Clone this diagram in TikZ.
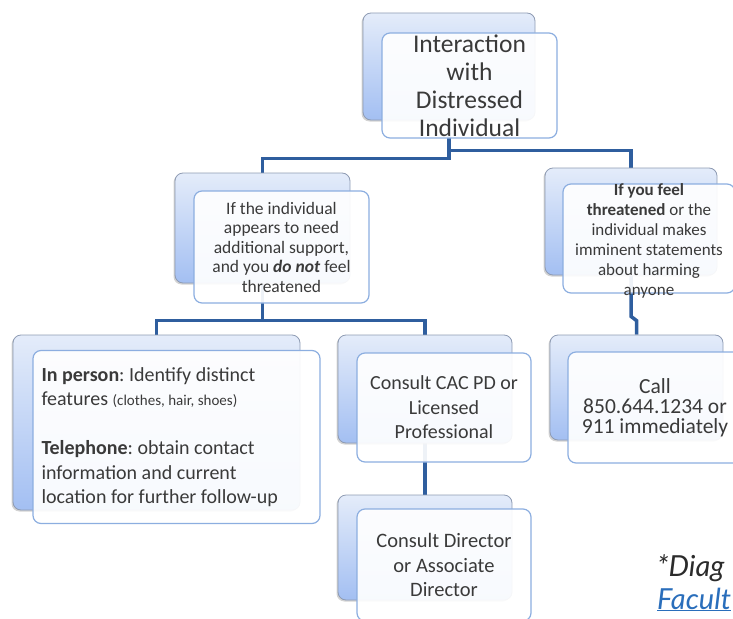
\documentclass[tikz,border=0pt]{standalone}
\usepackage{fontspec}
\setmainfont{Carlito}
\newfontfamily\notefont{Lato}
\usetikzlibrary{shadows, backgrounds, calc}
\frenchspacing

\definecolor{linkblue}{HTML}{2F5E9E}
\definecolor{backtop}{HTML}{E4ECFA}
\definecolor{backbot}{HTML}{A3BFF2}
\definecolor{backedge}{HTML}{8E9BB3}
\definecolor{frontedge}{HTML}{8CAEE0}
\definecolor{boxtext}{HTML}{3A3A3A}
\definecolor{notetext}{HTML}{2B2B2B}
\definecolor{noteblue}{HTML}{2A6EBB}

\tikzset{
  backbox/.style={rectangle, rounded corners=8pt, draw=backedge, line width=0.8pt,
    top color=backtop, bottom color=backbot, inner sep=0pt,
    drop shadow={shadow xshift=-1.5pt, shadow yshift=-1.5pt, opacity=0.35}},
  frontbox/.style={rectangle, rounded corners=8pt, draw=frontedge, line width=1.2pt,
    fill=white, fill opacity=0.92, text opacity=1, text=boxtext, inner sep=0pt, align=center},
  link/.style={draw=linkblue, line width=3.5pt}
}

\begin{document}
\begin{tikzpicture}[x=1pt, y=-1pt]
            \useasboundingbox (0,0) rectangle (733,618);
            \clip (0,0) rectangle (733,618);

            % top of the tree
            \node[backbox, minimum width=172pt, minimum height=107pt] (rootback) at (449,66.5) {};
            \node[frontbox, minimum width=175pt, minimum height=105pt, font=\fontsize{25.5}{28}\selectfont] (root) at (469.5,85.5) {Interaction\\with\\Distressed\\Individual};

            % second row
            \node[backbox, minimum width=175pt, minimum height=110pt] (supportback) at (262.5,228) {};
            \node[frontbox, minimum width=175pt, minimum height=112pt, font=\fontsize{17.5}{19.5}\selectfont] (support) at (281.5,247) {If the individual\\appears to need\\additional support,\\and you \textbf{\textit{do not}} feel\\threatened};

            \node[backbox, minimum width=172pt, minimum height=107pt] (threatback) at (631,221.5) {};
            \node[frontbox, minimum width=172pt, minimum height=109pt] (threat) at (649,238.5) {};
            \node[align=center, text=boxtext, inner sep=0pt, font=\fontsize{17}{20}\selectfont] (threattext) at (649,241) {\textbf{If you feel}\\\textbf{threatened} or the\\individual makes\\imminent statements\\about harming\\anyone};

            % third row
            \node[backbox, minimum width=287pt, minimum height=175pt] (personback) at (156.5,422.5) {};
            \node[frontbox, minimum width=287pt, minimum height=173pt, align=flush left, text width=270pt, font=\fontsize{20}{24.5}\selectfont] (person) at (176.5,437) {\textbf{In person}: Identify distinct\\features {\fontsize{15}{24.5}\selectfont(clothes, hair, shoes)}\\[24.5pt]\textbf{Telephone}: obtain contact\\information and current\\location for further follow-up};

            \node[backbox, minimum width=174pt, minimum height=108pt] (cacback) at (425,389) {};
            \node[frontbox, minimum width=174pt, minimum height=109pt, font=\fontsize{20}{24.5}\selectfont] (cac) at (444,407.5) {Consult CAC PD or\\Licensed\\Professional};

            \node[backbox, minimum width=173pt, minimum height=105pt] (callback) at (636.5,387.5) {};
            \node[frontbox, minimum width=174pt, minimum height=111pt, font=\fontsize{21.5}{20}\selectfont] (call) at (655,407.5) {Call\\850.644.1234 or\\911 immediately};

            % last box
            \node[backbox, minimum width=174pt, minimum height=105pt] (directorback) at (425,547.5) {};
            \node[frontbox, minimum width=174pt, minimum height=112pt, font=\fontsize{20.5}{24.5}\selectfont] (director) at (444,565) {Consult Director\\or Associate\\Director};

            % connectors
            \begin{scope}[on background layer]
                \draw[link] (rootback.south) -- ++(0,38) -| (supportback.north);
                \draw[link] (rootback.south) -- ++(0,30) -| (threatback.north);
                \draw[link] (supportback.south) -- ++(0,37) -| (personback.north);
                \draw[link] (supportback.south) -- ++(0,37) -| (cacback.north);
                \draw[link] (threatback.south) -- ++(0,41) -- ($(callback.north)+(0,-14)$) -- (callback.north);
                \draw[link] (cacback.south) -- (directorback.north);
            \end{scope}

            % note at the side
            \node[anchor=base west, inner sep=0pt, text=notetext, font=\notefont\itshape\fontsize{29}{32}\selectfont] (notemark) at (657,576) {*Diag};
            \node[anchor=base west, inner sep=0pt, text=noteblue, font=\notefont\itshape\fontsize{29}{32}\selectfont] (notelink) at (657,609) {\underline{Facult}};
        \end{tikzpicture}
\end{document}
